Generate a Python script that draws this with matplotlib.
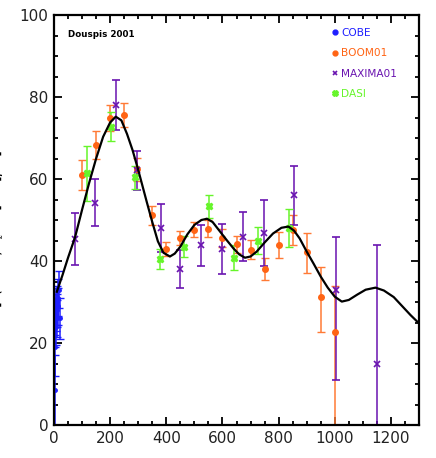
import matplotlib
matplotlib.use("Agg")
import matplotlib.pyplot as plt
from matplotlib.lines import Line2D
import numpy as np

# ---- data ----
cobe_l   = [2, 3, 4, 5, 6, 7, 8, 9, 10, 12, 14, 16, 19, 23]
cobe_v   = [8.5, 19, 25, 27, 29, 24, 27, 30, 28, 26, 31, 29, 33, 26]
cobe_e   = [8.5, 7, 6, 5, 4.5, 4.5, 4, 4, 4, 4.5, 4.5, 4.5, 4.5, 5]

boom_l   = [99, 150, 200, 249, 297, 350, 399, 449, 500, 550, 600, 651, 702, 751, 801, 851, 900, 951, 1001]
boom_v   = [61.0, 68.3, 74.8, 75.6, 62.4, 51.1, 42.9, 45.5, 47.6, 47.9, 45.5, 44.1, 42.8, 38.0, 43.9, 47.6, 42.1, 31.3, 22.6]
boom_lo  = [3.6, 3.5, 3.2, 2.9, 2.8, 2.4, 1.8, 1.7, 1.8, 2.0, 2.2, 2.1, 2.3, 2.7, 3.1, 3.8, 5.0, 8.5, 22.6]
boom_hi  = [3.6, 3.5, 3.2, 2.9, 2.8, 2.4, 1.8, 1.7, 1.8, 2.0, 2.2, 2.1, 2.3, 2.7, 3.1, 3.7, 4.7, 7.3, 11.3]

max_l    = [75, 146, 221, 294, 381, 449, 522, 597, 672, 748, 856, 1004, 1149]
max_v    = [45.3, 54.1, 78.0, 62.2, 48.0, 38.0, 43.9, 42.9, 45.9, 46.9, 56.0, 32.9, 14.9]
max_lo   = [6.2, 5.5, 6.0, 4.9, 5.8, 4.5, 5.0, 6.0, 6.0, 8.0, 7.1, 21.9, 14.9]
max_hi   = [6.5, 5.8, 6.1, 4.7, 5.9, 4.8, 5.0, 6.1, 6.0, 8.0, 7.1, 13.0, 29.0]

dasi_l   = [116, 202, 288, 378, 464, 553, 642, 725, 838]
dasi_v   = [61.4, 72.8, 60.4, 40.5, 43.5, 53.3, 40.8, 44.9, 48.1]
dasi_e   = [6.7, 3.6, 2.8, 2.4, 2.6, 2.8, 3.1, 3.3, 4.7]

model_l  = [10, 30, 50, 75, 100, 125, 150, 175, 200, 220, 240, 260, 280, 300, 330, 350,
            370, 390, 413, 430, 450, 475, 500, 525, 545, 565, 590, 615, 640, 660, 680,
            700, 722, 750, 780, 810, 835, 855, 875, 900, 925, 950, 975, 1000, 1025,
            1050, 1080, 1110, 1145, 1175, 1210, 1240, 1270, 1300]
model_v  = [32.5, 36.5, 40.8, 45.8, 52.5, 59.0, 65.0, 70.3, 73.8, 75.2, 74.3, 71.0, 67.0,
            62.2, 54.5, 49.5, 44.8, 42.0, 41.1, 41.8, 43.5, 46.5, 48.8, 50.0, 50.3, 49.5,
            47.3, 45.1, 43.0, 41.6, 40.8, 41.1, 42.3, 44.5, 46.7, 48.1, 48.4, 47.4, 45.5,
            42.3, 39.3, 36.2, 33.5, 31.3, 30.1, 30.5, 31.8, 33.0, 33.5, 32.8, 31.2, 29.0,
            26.8, 24.8]

labels = ["COBE", "BOOM01", "MAXIMA01", "DASI"]
c_cobe = "#1f1fff"
c_boom = "#ff6414"
c_max  = "#6a14b0"
c_dasi = "#66f52a"

fig = plt.figure(figsize=(4.36, 4.58), dpi=100)
ax = fig.add_axes([54/436, 33/458, 365/436, 410/458])

ekw = dict(linestyle="none", capsize=2.6, capthick=1.0, elinewidth=1.1)

ax.errorbar(cobe_l, cobe_v, yerr=cobe_e, color=c_cobe, marker="o", ms=2.5, **ekw)
ax.errorbar(boom_l, boom_v, yerr=[boom_lo, boom_hi], color=c_boom, marker="o", ms=4,
            ecolor="#ff7a35", **ekw)
ax.errorbar(max_l, max_v, yerr=[max_lo, max_hi], color=c_max, marker="x", ms=4,
            mew=1.2, **ekw)
ax.errorbar(dasi_l, dasi_v, yerr=dasi_e, color=c_dasi, marker="X", ms=4.5, **ekw)
ax.plot(model_l, model_v, color="black", lw=1.6, zorder=5)

ax.set_xlim(0, 1300)
ax.set_ylim(0, 100)
ax.set_xticks(np.arange(0, 1201, 200))
ax.set_xticks(np.arange(0, 1301, 50), minor=True)
ax.set_yticks(np.arange(0, 101, 20))
ax.set_yticks(np.arange(0, 101, 5), minor=True)
ax.tick_params(which="both", direction="in", top=True, right=True, width=1.3,
               labelsize=11, labelcolor="#222222", pad=4)
ax.tick_params(which="major", length=6)
ax.tick_params(which="minor", length=3)
for s in ax.spines.values():
    s.set_linewidth(1.6)

ax.text(0.038, 0.953, "Douspis 2001", transform=ax.transAxes, fontsize=6.3,
        fontweight="bold", ha="left", va="center")

handles = [
    Line2D([], [], ls="none", marker="o", ms=3.5, color=c_cobe),
    Line2D([], [], ls="none", marker="o", ms=3.5, color=c_boom),
    Line2D([], [], ls="none", marker="x", ms=3.5, mew=1.2, color=c_max),
    Line2D([], [], ls="none", marker="X", ms=4, color=c_dasi),
]
ax.legend(handles, labels, loc="upper left", bbox_to_anchor=(0.763, 0.968),
          frameon=False, fontsize=7.6, handlelength=0.5, handletextpad=0.35,
          labelspacing=0.97, borderpad=0, borderaxespad=0, labelcolor="linecolor")

fig.text(-0.012, 0.5, r"[$\ell(\ell+1)C_\ell/2\pi$]$^{1/2}$ [$\mu$K]", rotation=90,
         ha="center", va="center", fontsize=11)

fig.savefig("out.png", dpi=100)
